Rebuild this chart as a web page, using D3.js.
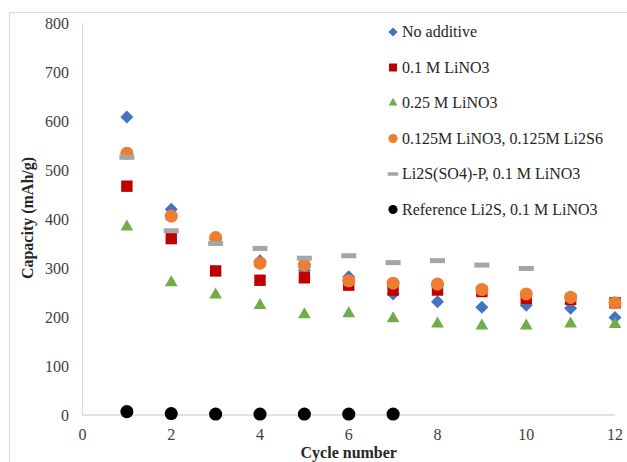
<!DOCTYPE html>
<html>
<head>
<meta charset="utf-8">
<script src="https://cdn.jsdelivr.net/npm/d3@7"></script>
<style>
  body { margin: 0; background: #fff; }
  svg text { font-family: "Liberation Serif", "Times New Roman", serif; }
</style>
</head>
<body>
<div id="chart"></div>
<script>
// cycle numbers
var cycles = [1, 2, 3, 4, 5, 6, 7, 8, 9, 10, 11, 12];

// capacity values (mAh/g)
var noAdditive   = [608, 420, 358, 315, 295, 282, 247, 231, 220, 224, 218, 199];
var lino3_01     = [467, 360, 294, 275, 280, 265, 255, 255, 252, 238, 236, 229];
var lino3_025    = [384, 270, 245, 224, 205, 207, 197, 186, 182, 182, 186, 185];
var lino3_li2s6  = [534, 406, 362, 310, 306, 274, 269, 267, 256, 247, 240, 229];
var li2sSO4P     = [526, 376, 350, 340, 320, 325, 311, 315, 306, 299];
var refLi2S      = [7, 3, 2, 2, 2, 2, 2];

var seriesNames = ["No additive", "0.1 M LiNO3", "0.25 M LiNO3",
  "0.125M LiNO3, 0.125M Li2S6", "Li2S(SO4)-P, 0.1 M LiNO3", "Reference Li2S, 0.1 M LiNO3"];

var xTicks = [0, 2, 4, 6, 8, 10, 12];
var yTicks = [0, 100, 200, 300, 400, 500, 600, 700, 800];

var series = [
  { name: seriesNames[0], values: noAdditive,  shape: "diamond",  color: "#4472C4" },
  { name: seriesNames[1], values: lino3_01,    shape: "square",   color: "#C00000" },
  { name: seriesNames[2], values: lino3_025,   shape: "triangle", color: "#70AD47" },
  { name: seriesNames[3], values: lino3_li2s6, shape: "circle",   color: "#ED7D31" },
  { name: seriesNames[4], values: li2sSO4P,    shape: "dash",     color: "#A5A5A5" },
  { name: seriesNames[5], values: refLi2S,     shape: "circle",   color: "#000000" }
];

var w = 627, h = 462;
var svg = d3.select("#chart").append("svg")
  .attr("width", w)
  .attr("height", h);

// outer frame (cropped at right/bottom)
svg.append("rect")
  .attr("x", 9.5).attr("y", 12.5)
  .attr("width", 640).attr("height", 480)
  .attr("fill", "none")
  .attr("stroke", "#d9d9d9");

var x = d3.scaleLinear().domain([0, 12]).range([82.5, 615]);
var y = d3.scaleLinear().domain([0, 800]).range([415, 23]);

// axis lines
svg.append("line")
  .attr("x1", x(0)).attr("x2", x(0))
  .attr("y1", y(800)).attr("y2", y(0))
  .attr("stroke", "#d9d9d9").attr("stroke-width", 1.2);
svg.append("line")
  .attr("x1", x(0)).attr("x2", x(12))
  .attr("y1", y(0)).attr("y2", y(0))
  .attr("stroke", "#d9d9d9").attr("stroke-width", 1.5);

// tick labels
svg.selectAll(".ytick").data(yTicks).enter().append("text")
  .attr("x", 69)
  .attr("y", function(d) { return y(d) + 5.5; })
  .attr("text-anchor", "end")
  .attr("font-size", 16)
  .attr("fill", "#404040")
  .text(function(d) { return d; });

svg.selectAll(".xtick").data(xTicks).enter().append("text")
  .attr("x", function(d) { return x(d); })
  .attr("y", 440)
  .attr("text-anchor", "middle")
  .attr("font-size", 16)
  .attr("fill", "#404040")
  .text(function(d) { return d; });

// axis titles
svg.append("text")
  .attr("x", x(6))
  .attr("y", 458)
  .attr("text-anchor", "middle")
  .attr("font-size", 16)
  .attr("font-weight", "bold")
  .attr("fill", "#262626")
  .text("Cycle number");

svg.append("text")
  .attr("transform", "translate(33,218) rotate(-90)")
  .attr("text-anchor", "middle")
  .attr("font-size", 16)
  .attr("font-weight", "bold")
  .attr("fill", "#262626")
  .text("Capacity (mAh/g)");

// draw a marker of a given shape at (cx, cy), scale k
function marker(g, shape, color, cx, cy, k) {
  if (shape === "dash") {
    g.append("rect")
      .attr("x", cx - 7.5 * k).attr("y", cy - 2.5 * k)
      .attr("width", 15 * k).attr("height", 5 * k)
      .attr("fill", color);
    return;
  }
  var sym, size, rot = 0;
  if (shape === "diamond") { sym = d3.symbolSquare; size = 85; rot = 45; }
  if (shape === "square") { sym = d3.symbolSquare; size = 130; }
  if (shape === "triangle") { sym = d3.symbolTriangle; size = 70; }
  if (shape === "circle") { sym = d3.symbolCircle; size = 135; }
  g.append("path")
    .attr("d", d3.symbol().type(sym).size(size * k * k))
    .attr("transform", "translate(" + cx + "," + cy + ") rotate(" + rot + ")")
    .attr("fill", color);
}

// points
series.forEach(function(s) {
  var g = svg.append("g");
  s.values.forEach(function(v, i) {
    marker(g, s.shape, s.color, x(cycles[i]), y(v), 1);
  });
});

// legend
var legend = svg.append("g");
series.forEach(function(s, i) {
  var ly = 32 + i * 35.5;
  marker(legend, s.shape, s.color, 393, ly, 0.7);
  legend.append("text")
    .attr("x", 402)
    .attr("y", ly + 5)
    .attr("font-size", 16)
    .attr("fill", "#262626")
    .text(s.name);
});
</script>
</body>
</html>
